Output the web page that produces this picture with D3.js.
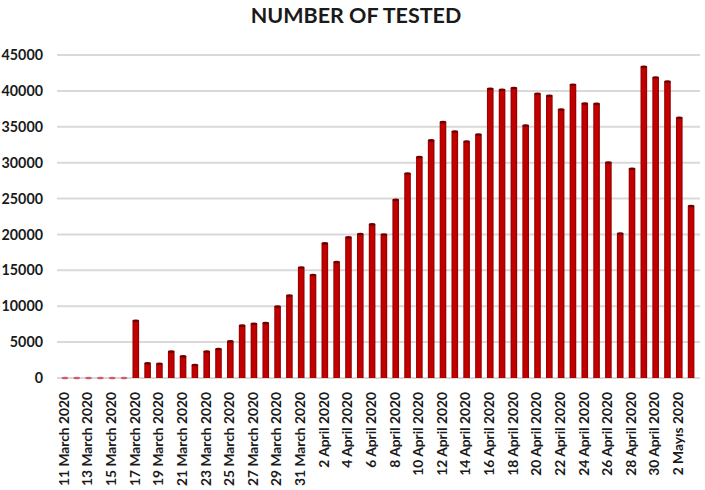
<!DOCTYPE html>
<html lang="en">
<head>
    <meta charset="UTF-8">
    <title>Number of tested</title>
    <script type="text/javascript" src="https://cdn.jsdelivr.net/npm/d3@7/dist/d3.min.js"></script>
    <style>
        body { margin: 0; background: #fff; }
        .grid line { stroke: #d9d9d9; stroke-width: 2; }
        .axis text { font-family: Lato, "Open Sans", sans-serif; font-weight: bold; fill: #1a1a1a; }
        .title { font-family: Lato, "Open Sans", sans-serif; font-weight: bold; font-size: 21.5px; fill: #1a1a1a; }
    </style>
</head>
<body>
<svg id="chart" width="705" height="490"></svg>
<script>
    // days shown on the x axis (11 March .. 3 May 2020)
    var days = [
        "11 March 2020", "12 March 2020", "13 March 2020", "14 March 2020", "15 March 2020",
        "16 March 2020", "17 March 2020", "18 March 2020", "19 March 2020", "20 March 2020",
        "21 March 2020", "22 March 2020", "23 March 2020", "24 March 2020", "25 March 2020",
        "26 March 2020", "27 March 2020", "28 March 2020", "29 March 2020", "30 March 2020",
        "31 March 2020", "1 April 2020", "2 April 2020", "3 April 2020", "4 April 2020",
        "5 April 2020", "6 April 2020", "7 April 2020", "8 April 2020", "9 April 2020",
        "10 April 2020", "11 April 2020", "12 April 2020", "13 April 2020", "14 April 2020",
        "15 April 2020", "16 April 2020", "17 April 2020", "18 April 2020", "19 April 2020",
        "20 April 2020", "21 April 2020", "22 April 2020", "23 April 2020", "24 April 2020",
        "25 April 2020", "26 April 2020", "27 April 2020", "28 April 2020", "29 April 2020",
        "30 April 2020", "1 Mayıs 2020", "2 Mayıs 2020", "3 Mayıs 2020"
    ];

    var tested = [
        0, 0, 0, 0, 0, 0, 7980, 2050, 1980, 3700,
        3010, 1810, 3700, 4040, 5100, 7290, 7560, 7660, 9970, 11500,
        15400, 14340, 18750, 16150, 19590, 20050, 21400, 20000, 24830, 28500,
        30780, 33100, 35650, 34350, 32950, 33930, 40290, 40150, 40390, 35180,
        39600, 39320, 37410, 40850, 38250, 38200, 30030, 20140, 29150, 43360,
        41870, 41310, 36250, 23950
    ];

    var yTicks = [0, 5000, 10000, 15000, 20000, 25000, 30000, 35000, 40000, 45000];

    // every second day gets a label
    var shownDays = days.filter(function (d, i) { return i % 2 === 0; });

    var svg = d3.select("#chart");

    var x = d3.scaleBand()
        .domain(days)
        .range([59, 697])
        .padding(0);

    var y = d3.scaleLinear()
        .domain([0, 45000])
        .range([378, 55]);

    var defs = svg.append("defs");
    var grad = defs.append("linearGradient").attr("id", "barGrad");
    grad.append("stop").attr("offset", "0%").attr("stop-color", "#8e0000");
    grad.append("stop").attr("offset", "25%").attr("stop-color", "#c00000");
    grad.append("stop").attr("offset", "70%").attr("stop-color", "#c40000");
    grad.append("stop").attr("offset", "100%").attr("stop-color", "#8a0000");

    svg.append("text")
        .attr("class", "title")
        .attr("x", 356)
        .attr("y", 23)
        .attr("text-anchor", "middle")
        .text("NUMBER OF TESTED");

    // gridlines
    svg.append("g")
        .attr("class", "grid")
        .selectAll("line")
        .data(yTicks)
        .enter()
        .append("line")
        .attr("x1", 57)
        .attr("x2", 700)
        .attr("y1", function (d) { return y(d); })
        .attr("y2", function (d) { return y(d); });

    // y axis labels
    var yAxis = svg.append("g")
        .attr("class", "axis")
        .attr("transform", "translate(43,0)")
        .call(d3.axisLeft(y).tickValues(yTicks).tickSize(0).tickPadding(0).tickFormat(d3.format("d")));
    yAxis.select(".domain").remove();
    yAxis.selectAll("text").style("font-size", "14.3px");

    // bars
    var bw = x.bandwidth() * 0.56;
    var bars = svg.append("g").selectAll("g")
        .data(tested)
        .enter()
        .append("g");

    bars.append("rect")
        .attr("x", function (d, i) { return x(days[i]) + (x.bandwidth() - bw) / 2; })
        .attr("y", function (d) { return y(d); })
        .attr("width", bw)
        .attr("height", function (d) { return y(0) - y(d); })
        .attr("fill", "url(#barGrad)");

    // flat cap on top of each bar (also shows as a dash for zero days)
    bars.append("ellipse")
        .attr("cx", function (d, i) { return x(days[i]) + x.bandwidth() / 2; })
        .attr("cy", function (d) { return y(d); })
        .attr("rx", bw / 2)
        .attr("ry", 1.3)
        .attr("fill", function (d) { return d === 0 ? "#d45a6a" : "#6e0000"; });

    // x axis labels
    var xAxis = svg.append("g")
        .attr("class", "axis")
        .attr("transform", "translate(-1,388)")
        .call(d3.axisBottom(x).tickValues(shownDays).tickSize(0).tickPadding(0));
    xAxis.select(".domain").remove();
    xAxis.selectAll("text")
        .style("font-size", "13.8px")
        .attr("text-anchor", "end")
        .attr("transform", "rotate(-90)")
        .attr("x", -4)
        .attr("y", 0)
        .attr("dy", "0.35em");
</script>
</body>
</html>
